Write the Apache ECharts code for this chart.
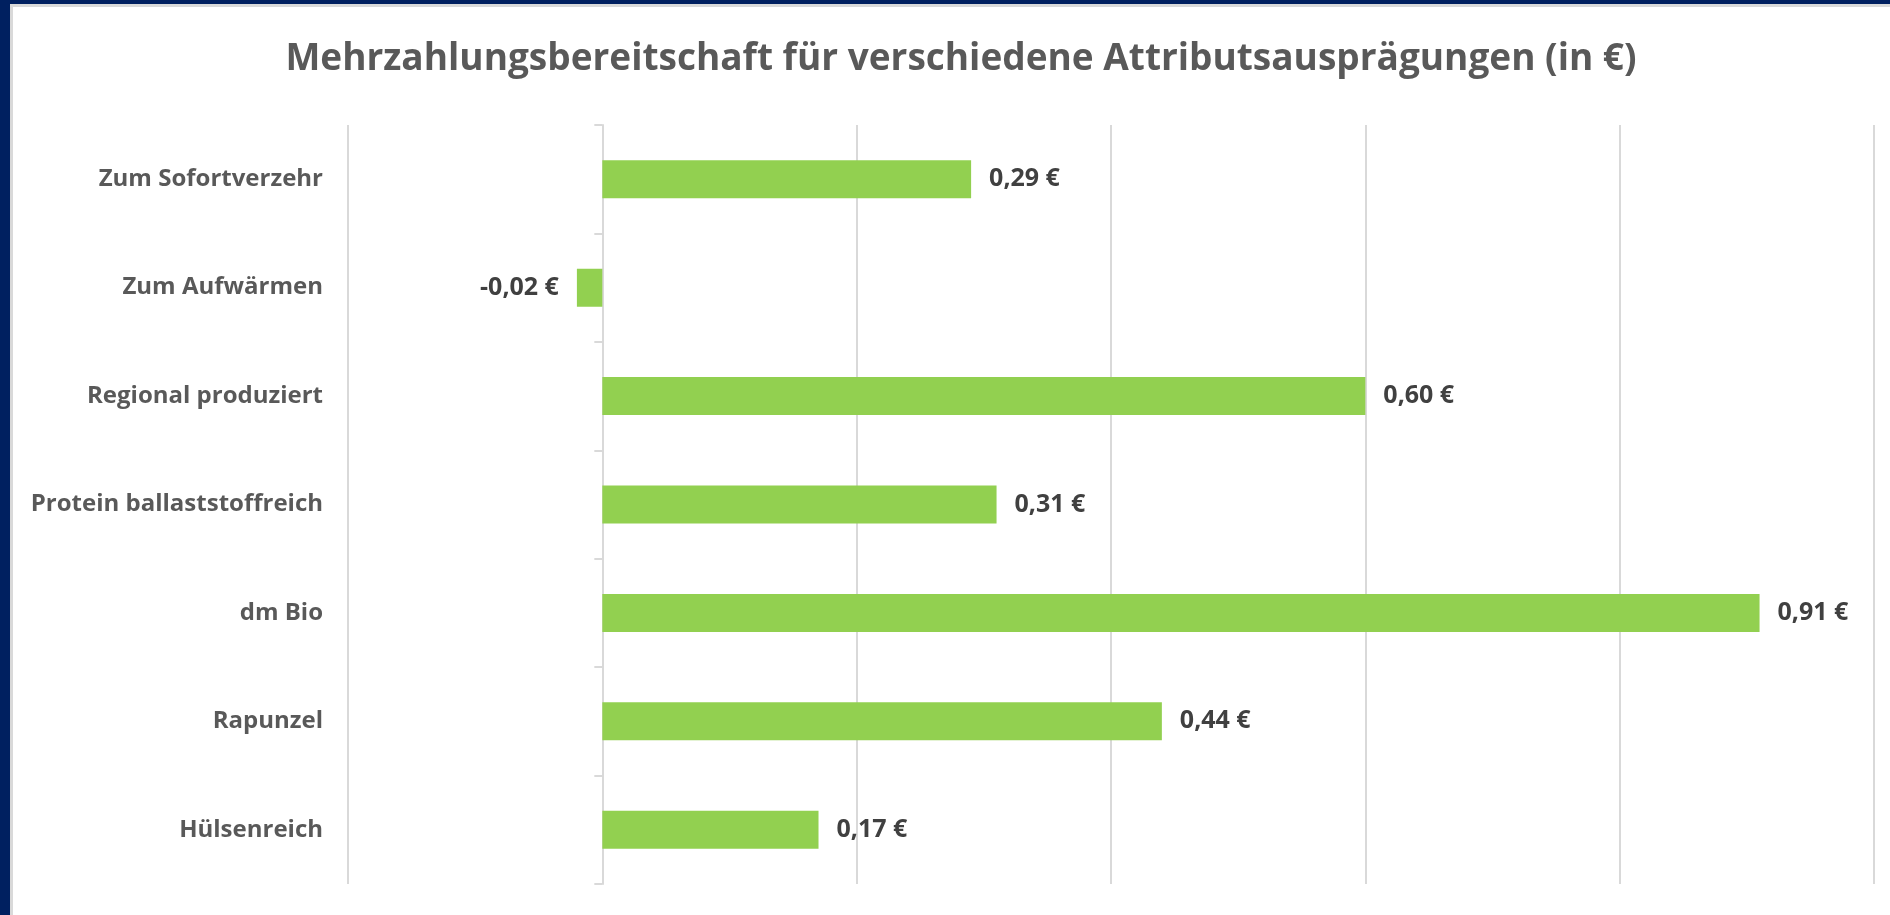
<!DOCTYPE html>
<html>
<head>
<meta charset="utf-8">
<script src="https://cdn.jsdelivr.net/npm/echarts@6/dist/echarts.min.js"></script>
<style>
  html, body { margin: 0; padding: 0; }
  body { width: 1890px; height: 915px; background: #002060; position: relative; overflow: hidden; }
  .panel {
    position: absolute; left: 10px; top: 4px; right: 0; bottom: 0;
    background: #fff; border-left: 3px solid #d9d9d9; border-top: 3px solid #d9d9d9;
  }
  #chart { position: absolute; left: 0; top: 0; width: 1890px; height: 915px; }
</style>
</head>
<body>
<div class="panel"></div>
<div id="chart"></div>
<script>
  // Kategorien von oben nach unten
  const categories = [
    'Zum Sofortverzehr',
    'Zum Aufwärmen',
    'Regional produziert',
    'Protein ballaststoffreich',
    'dm Bio',
    'Rapunzel',
    'Hülsenreich'
  ];
  // Mehrzahlungsbereitschaft in €
  const values = [0.29, -0.02, 0.60, 0.31, 0.91, 0.44, 0.17];

  const fontFamily = '"Open Sans", "Noto Sans", sans-serif';
  const gridColor = '#d9d9d9';

  const chart = echarts.init(document.getElementById('chart'));

  const formatEuro = v => v.toFixed(2).replace('.', ',') + ' €';

  const option = {
    animation: false,
    textStyle: { fontFamily: fontFamily },
    title: {
      text: 'Mehrzahlungsbereitschaft für verschiedene Attributsausprägungen (in €)',
      left: 956,
      top: 36,
      textAlign: 'center',
      textStyle: {
        fontFamily: fontFamily,
        fontSize: 37,
        fontWeight: 'bold',
        color: '#595959'
      }
    },
    grid: {
      left: 348,
      right: 16,
      top: 125,
      bottom: 31
    },
    xAxis: {
      type: 'value',
      min: -0.2,
      max: 1.0,
      interval: 0.2,
      axisLine: { show: false },
      axisTick: { show: false },
      axisLabel: { show: false },
      splitLine: { lineStyle: { color: gridColor, width: 2 } }
    },
    yAxis: [
      {
        // Achse bei 0 mit Teilstrichen
        type: 'category',
        data: categories,
        inverse: true,
        axisLine: { onZero: true, lineStyle: { color: gridColor, width: 2 } },
        axisTick: { show: true, length: 8, lineStyle: { color: gridColor, width: 2 } },
        axisLabel: { show: false }
      },
      {
        // Beschriftungen am linken Rand
        type: 'category',
        data: categories,
        inverse: true,
        position: 'left',
        axisLine: { show: false, onZero: false },
        axisTick: { show: false },
        axisLabel: {
          margin: 25,
          fontFamily: fontFamily,
          fontSize: 24,
          fontWeight: 'bold',
          color: '#595959'
        }
      }
    ],
    series: [
      {
        type: 'bar',
        yAxisIndex: 0,
        barWidth: 38,
        itemStyle: { color: '#92d050' },
        data: values.map(v => ({
          value: v,
          label: { position: v < 0 ? 'left' : 'right' }
        })),
        label: {
          show: true,
          distance: 18,
          fontFamily: fontFamily,
          fontSize: 25,
          fontWeight: 'bold',
          color: '#404040',
          formatter: p => formatEuro(p.value)
        }
      }
    ]
  };

  chart.setOption(option);
</script>
</body>
</html>
